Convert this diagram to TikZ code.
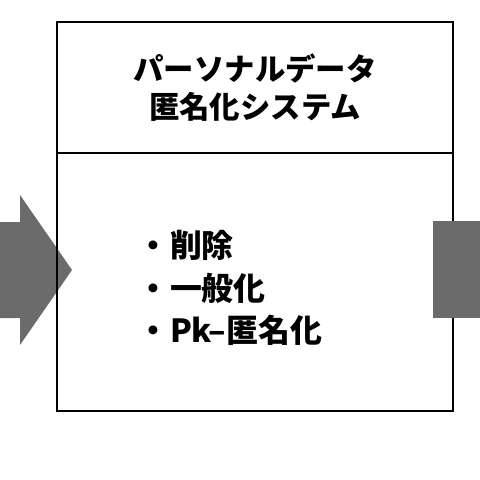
\documentclass[tikz,border=0pt]{standalone}
\usepackage{fontspec}
\newfontfamily\jpfont{Noto Sans CJK JP}
\usetikzlibrary{positioning}
\begin{document}
\begin{tikzpicture}[
        x=1bp, y=-1bp,
        frame_box/.style={draw, line width=1.8bp, minimum width=396bp, inner sep=0pt, outer sep=0pt,
            align=center, font=\jpfont\bfseries\fontsize{30.5}{38}\selectfont},
        list_text/.style={inner sep=0pt, align=left, font=\jpfont\bfseries\fontsize{32}{42.5}\selectfont},
        block_shape/.style={fill=black!58, draw=none}
    ]
        \useasboundingbox (0,0) rectangle (480,480);
        % Vstupní šipka
        \fill[block_shape] (0,222) -- (20,222) -- (20,195) -- (72,270) -- (20,345) -- (20,318) -- (0,318) -- cycle;
        % Systém
        \node[frame_box, minimum height=131bp, anchor=north west] (title_box) at (57,22) {パーソナルデータ\\匿名化システム};
        \node[frame_box, minimum height=258bp, below=0pt of title_box] (body_box) {};
        \node[list_text, anchor=west] (method_list) at (137,288) {・\hspace{1bp}削除\\・\hspace{1bp}一般化\\・\hspace{1bp}Pk–匿名化};
        % Výstup
        \fill[block_shape] (433,221) rectangle (480,318);
    \end{tikzpicture}
\end{document}
